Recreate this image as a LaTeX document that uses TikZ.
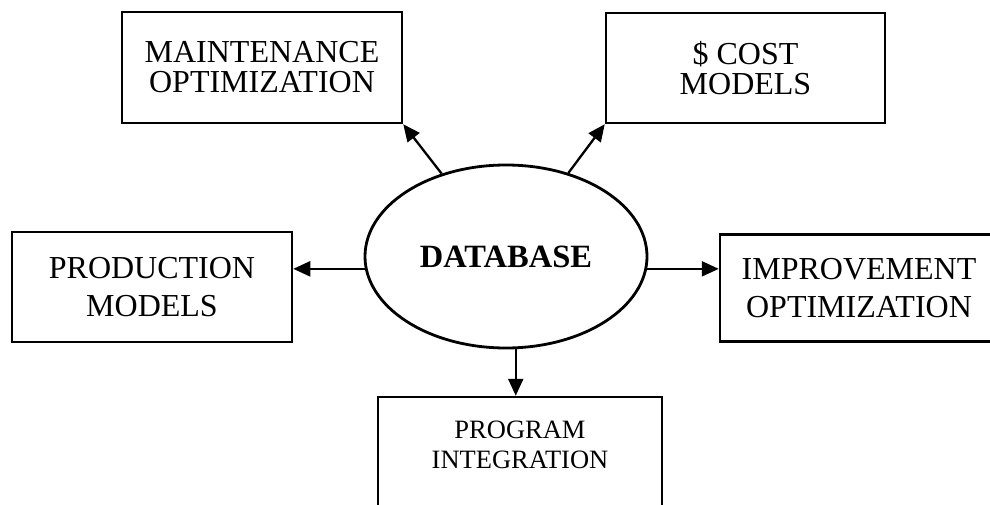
\documentclass[tikz,border=0pt]{standalone}
\usepackage{fontspec}
\setmainfont{Liberation Serif}
\usetikzlibrary{arrows.meta,shapes.geometric}
\begin{document}
\begin{tikzpicture}[x=1pt,y=-1pt,
  box/.style={draw, line width=2.5pt, inner sep=0pt, align=center,
    font=\fontsize{32}{30}\selectfont},
  loose/.style={font=\fontsize{32}{38}\selectfont},
  hub/.style={draw, ellipse, line width=2.8pt, inner sep=0pt,
    font=\bfseries\fontsize{32.5}{36}\selectfont},
  arr/.style={line width=2.3pt, -{Triangle[length=17pt,width=15pt]}}]
  % page frame
  \useasboundingbox (0,0) rectangle (990,505);
  \fill[white] (0,0) rectangle (990,505);
  \clip (0,0) rectangle (990,505);

  % central database
  \node[hub, minimum width=282pt, minimum height=183pt] (db) at (506,256.5) {DATABASE};

  % surrounding models
  \node[box, minimum width=280pt, minimum height=111pt] (maint) at (262,67.5)
    {MAINTENANCE\\OPTIMIZATION};
  \node[box, minimum width=279pt, minimum height=110pt] (cost) at (745.5,68)
    {\$ COST\\MODELS};
  \node[box, loose, minimum width=280pt, minimum height=110pt] (prod) at (152,287)
    {PRODUCTION\\MODELS};
  \node[box, loose, minimum width=278pt, minimum height=107pt] (impr) at (859,288)
    {IMPROVEMENT\\OPTIMIZATION};
  \node[box, minimum width=284pt, minimum height=111pt,
    label={[font=\fontsize{26.5}{30}\selectfont, align=center, yshift=8pt]center:PROGRAM\\INTEGRATION}]
    (prog) at (520,452.5) {};

  % data flows out of the database
  \draw[arr] (db) -- (maint.south east);
  \draw[arr] (db) -- (cost.south west);
  \draw[arr] (db.185) -- (db.185 -| prod.east);
  \draw[arr] (db.355) -- (db.355 -| impr.west);
  \draw[arr] (db.276) -- (db.276 |- prog.north);
\end{tikzpicture}
\end{document}
